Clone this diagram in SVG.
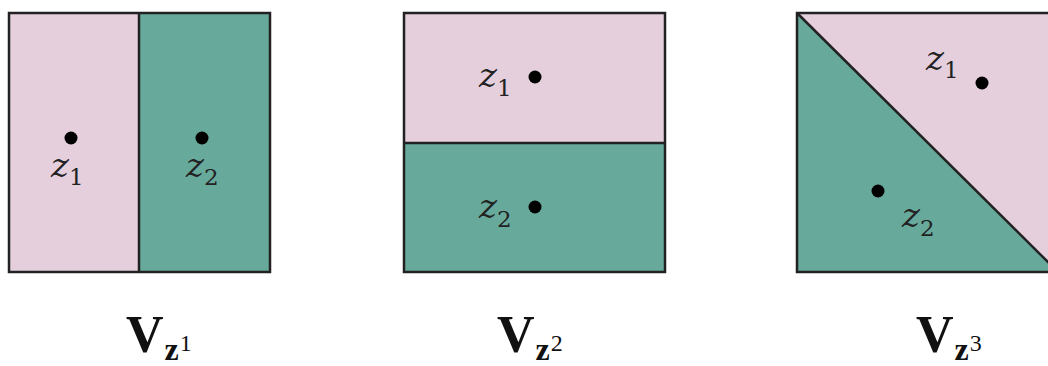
<svg xmlns="http://www.w3.org/2000/svg" width="1048" height="366" viewBox="0 0 1048 366">
<style>
.pink{fill:#e5cfdc}
.teal{fill:#67aa9c}
.edge{fill:none;stroke:#222;stroke-width:2.5}
.dot{fill:#000}
.z{font-family:"DejaVu Serif",serif;font-style:italic;font-size:34px;fill:#222}
.sub{font-style:normal;font-size:23px}
.lab{font-family:"Liberation Serif",serif;font-weight:bold;font-size:52px;fill:#111}
.lsub{font-size:32px}
.lsup{font-size:24px;font-weight:normal}
</style>
<g id="panel1">
<rect class="pink" x="9" y="13" width="130" height="259"/>
<rect class="teal" x="139" y="13" width="131" height="259"/>
<rect class="edge" x="9" y="13" width="261" height="259"/>
<line class="edge" x1="139" y1="13" x2="139" y2="272"/>
<circle class="dot" cx="71" cy="138" r="6.5"/>
<circle class="dot" cx="202" cy="138" r="6.5"/>
<text class="z" x="51" y="177">z<tspan class="sub" dy="8">1</tspan></text>
<text class="z" x="186" y="177">z<tspan class="sub" dy="8">2</tspan></text>
</g>
<g id="panel2">
<rect class="pink" x="404" y="13" width="261" height="130"/>
<rect class="teal" x="404" y="143" width="261" height="129"/>
<rect class="edge" x="404" y="13" width="261" height="259"/>
<line class="edge" x1="404" y1="143" x2="665" y2="143"/>
<circle class="dot" cx="535" cy="77" r="6.5"/>
<circle class="dot" cx="535" cy="207" r="6.5"/>
<text class="z" x="479" y="87">z<tspan class="sub" dy="9">1</tspan></text>
<text class="z" x="479" y="218">z<tspan class="sub" dy="9">2</tspan></text>
</g>
<g id="panel3">
<polygon class="pink" points="797,13 1058,13 1058,272"/>
<polygon class="teal" points="797,13 1058,272 797,272"/>
<rect class="edge" x="797" y="13" width="261" height="259"/>
<line class="edge" x1="797" y1="13" x2="1058" y2="272"/>
<circle class="dot" cx="982" cy="83" r="6.5"/>
<circle class="dot" cx="878" cy="191" r="6.5"/>
<text class="z" x="926" y="70">z<tspan class="sub" dy="8">1</tspan></text>
<text class="z" x="902" y="227">z<tspan class="sub" dy="9">2</tspan></text>
</g>
<g id="labels">
<text class="lab" x="126" y="352">V<tspan class="lsub" dx="1" dy="8">z</tspan><tspan class="lsup" dx="1" dy="-9">1</tspan></text>
<text class="lab" x="497" y="352">V<tspan class="lsub" dx="1" dy="8">z</tspan><tspan class="lsup" dx="1" dy="-9">2</tspan></text>
<text class="lab" x="916" y="352">V<tspan class="lsub" dx="1" dy="8">z</tspan><tspan class="lsup" dx="1" dy="-9">3</tspan></text>
</g>
</svg>
